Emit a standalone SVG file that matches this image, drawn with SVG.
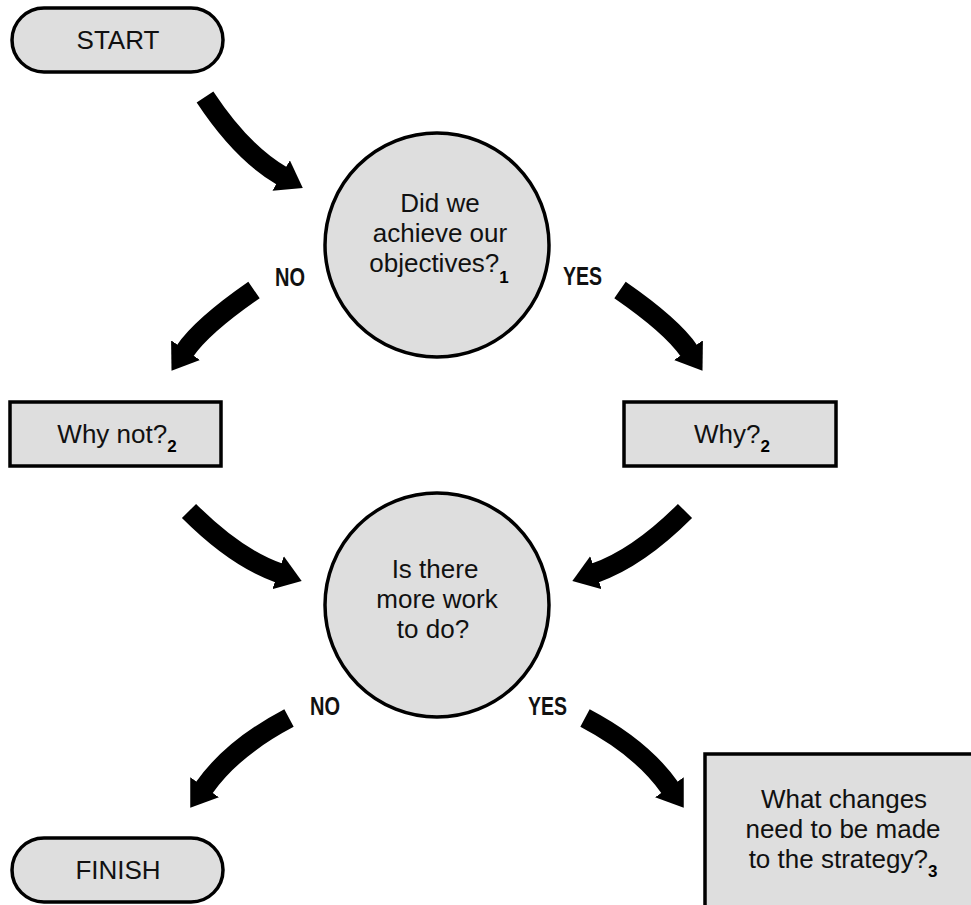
<svg xmlns="http://www.w3.org/2000/svg" width="971" height="905" viewBox="0 0 971 905">
<style>
.shape{fill:#dedede;stroke:#000;stroke-width:3.5}
.txt{font-family:"Liberation Sans",Arial,sans-serif;font-size:26px;fill:#111;text-anchor:middle}
.sub{font-family:"Liberation Sans",Arial,sans-serif;font-size:17px;font-weight:bold;fill:#000}
.lbl{font-family:"Liberation Sans Narrow","Liberation Sans",Arial,sans-serif;font-size:26px;font-weight:bold;fill:#111}
.arr{fill:none;stroke:#000;stroke-width:20;stroke-linecap:butt;marker-end:url(#ah)}
</style>
<defs>
<marker id="ah" markerUnits="userSpaceOnUse" markerWidth="26" markerHeight="35" refX="1" refY="17.5" orient="auto" viewBox="0 0 26 35">
<path d="M0,0 L25,17.5 L0,35 z" fill="#000"/>
</marker>
</defs>
<rect width="971" height="905" fill="#fff"/>
<g id="connectors">
<path class="arr" d="M205,97 Q242,153 282,176"/>
<path class="arr" d="M254,290 Q202,326 185,351"/>
<path class="arr" d="M620,290 Q672,326 689,351"/>
<path class="arr" d="M189,511 Q236,558 279,573"/>
<path class="arr" d="M685,511 Q638,558 595,573"/>
<path class="arr" d="M289,718 Q232,748 204,788"/>
<path class="arr" d="M585,718 Q642,748 670,788"/>
<text class="lbl" x="275" y="286" textLength="30" lengthAdjust="spacingAndGlyphs">NO</text>
<text class="lbl" x="563" y="285" textLength="39" lengthAdjust="spacingAndGlyphs">YES</text>
<text class="lbl" x="310" y="715" textLength="30" lengthAdjust="spacingAndGlyphs">NO</text>
<text class="lbl" x="528" y="715" textLength="39" lengthAdjust="spacingAndGlyphs">YES</text>
</g>
<g id="start">
<rect class="shape" x="12" y="8" width="211" height="64" rx="32" ry="32"/>
<text class="txt" x="118" y="49">START</text>
</g>
<g id="q1">
<circle class="shape" cx="437" cy="245" r="112"/>
<text class="txt" x="440" y="212">Did we</text>
<text class="txt" x="440" y="242">achieve our</text>
<text class="txt" x="439" y="272">objectives?<tspan class="sub" dy="11">1</tspan></text>
</g>
<g id="whynot">
<rect class="shape" x="10" y="402" width="211" height="64"/>
<text class="txt" x="117" y="443">Why not?<tspan class="sub" dy="9">2</tspan></text>
</g>
<g id="why">
<rect class="shape" x="624" y="402" width="212" height="64"/>
<text class="txt" x="732" y="443">Why?<tspan class="sub" dy="9">2</tspan></text>
</g>
<g id="q2">
<circle class="shape" cx="437" cy="605" r="112"/>
<text class="txt" x="435" y="578">Is there</text>
<text class="txt" x="437" y="608">more work</text>
<text class="txt" x="433" y="638">to do?</text>
</g>
<g id="changes">
<rect class="shape" x="705" y="754" width="280" height="200"/>
<text class="txt" x="844" y="808">What changes</text>
<text class="txt" x="843" y="838">need to be made</text>
<text class="txt" x="843" y="868">to the strategy?<tspan class="sub" dy="9">3</tspan></text>
</g>
<g id="finish">
<rect class="shape" x="12" y="838" width="211" height="64" rx="32" ry="32"/>
<text class="txt" x="118" y="879">FINISH</text>
</g>
</svg>
